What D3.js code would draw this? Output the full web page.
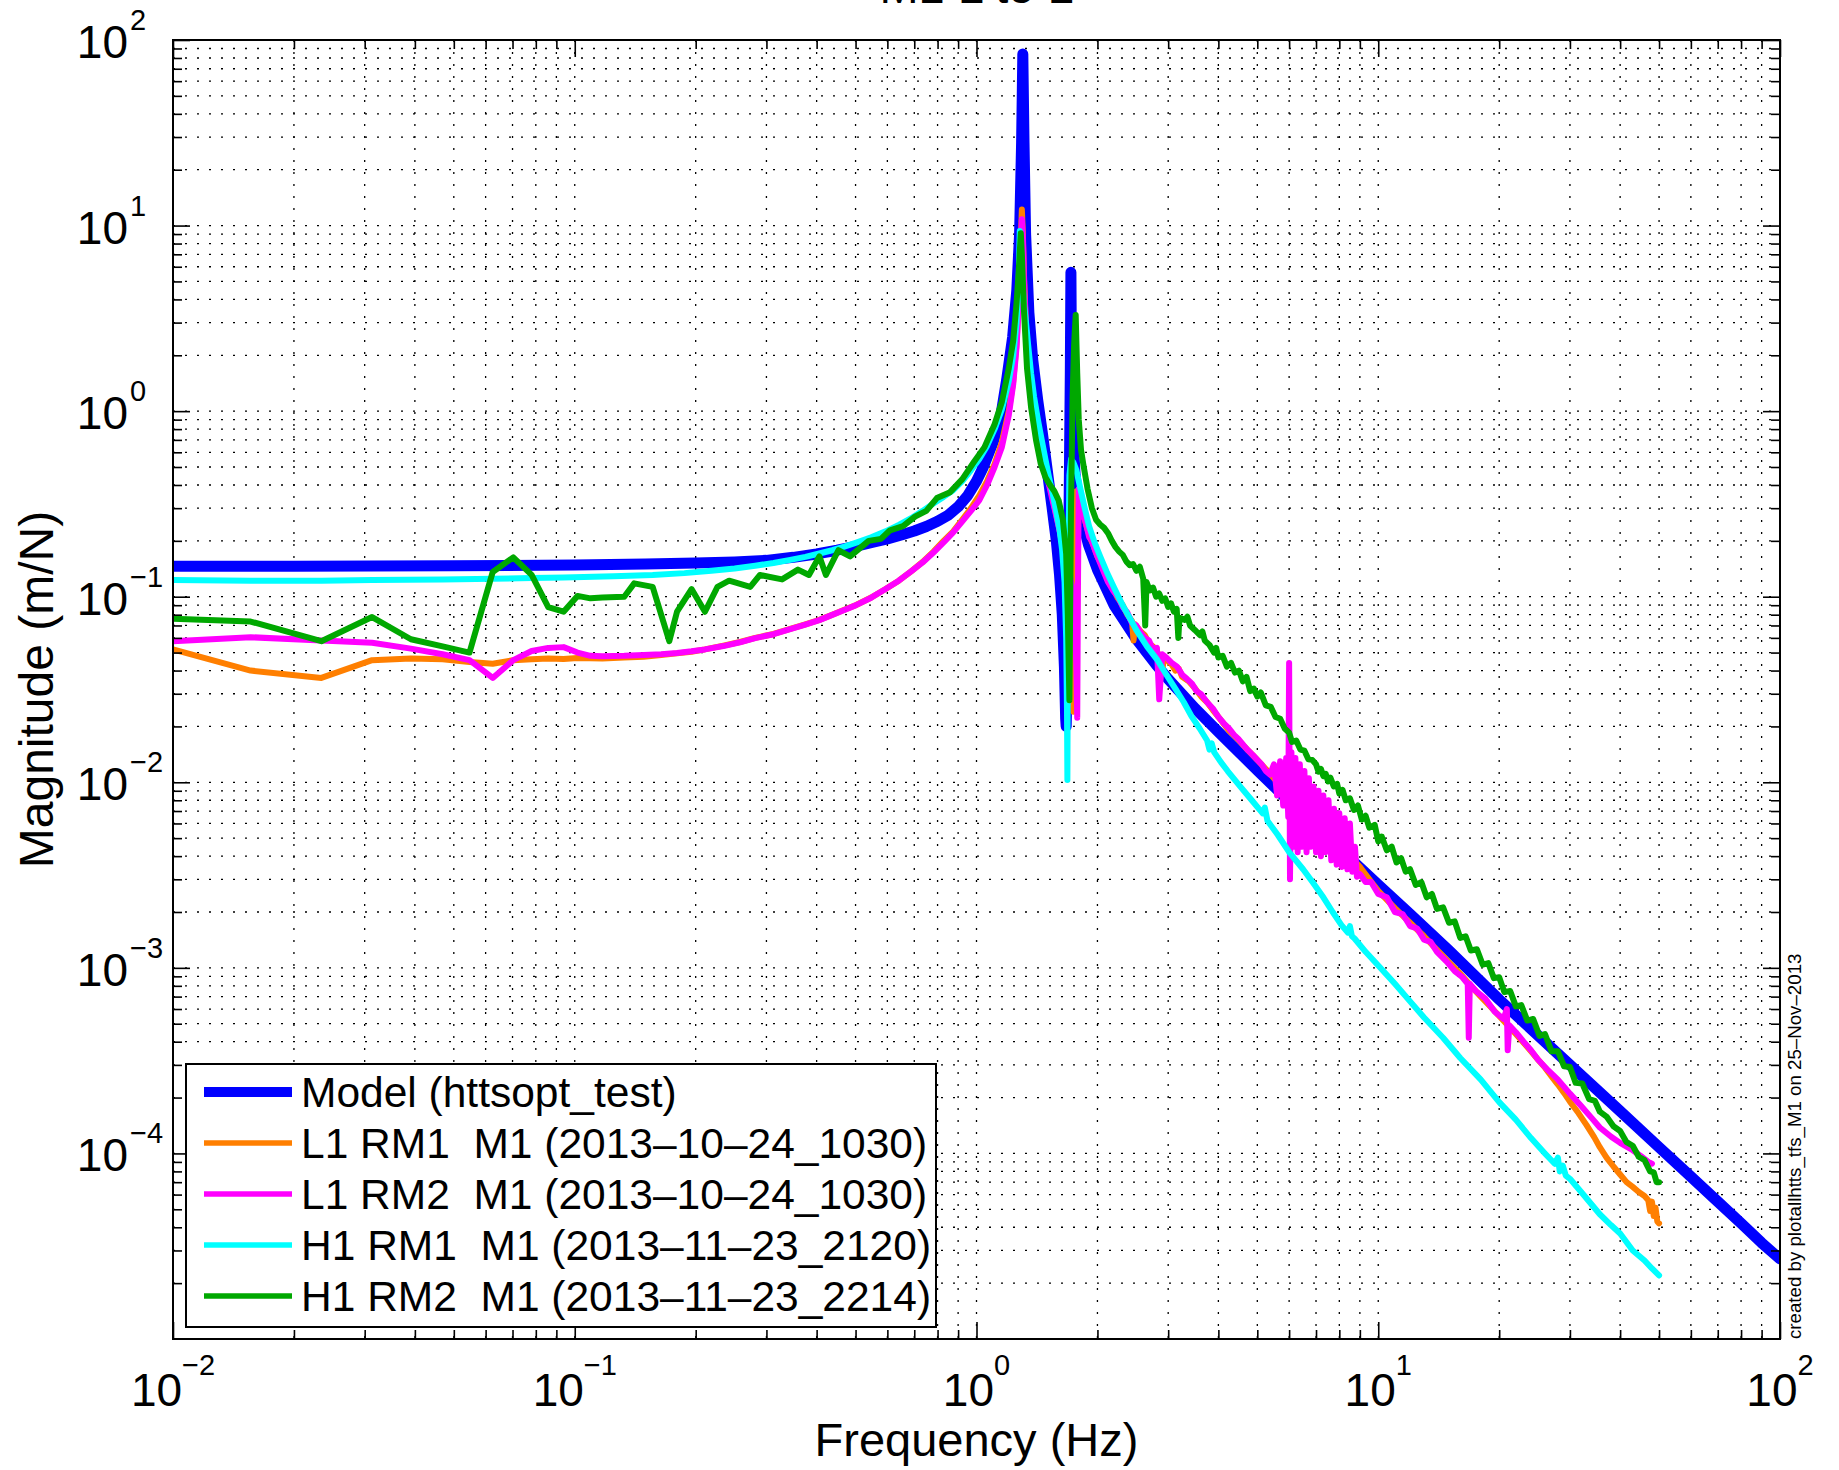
<!DOCTYPE html>
<html><head><meta charset="utf-8">
<script src="https://cdn.jsdelivr.net/npm/d3@7"></script>
<style>
html,body{margin:0;padding:0;background:#fff;}
svg{display:block;font-family:"Liberation Sans",Arial,Helvetica,sans-serif;}
</style></head><body>
<svg id="chart" width="1839" height="1470"></svg>
<script>
// ---------------- DATA (frequency Hz, magnitude m/N) ----------------
const titleText = "M1 L to L";
const xLabel = "Frequency (Hz)";
const yLabel = "Magnitude (m/N)";
const sideNote = "created by plotallhtts_tfs_M1 on 25\u2013Nov\u20132013";
const xTickExps = ["\u22122","\u22121","0","1","2"];
const xTickVals = [1e-2,1e-1,1,10,100];
const yTickExps = ["2","1","0","\u22121","\u22122","\u22123","\u22124"];
const yTickVals = [1e2,1e1,1,1e-1,1e-2,1e-3,1e-4];
const seriesNames = ["Model (httsopt_test)","L1 RM1  M1 (2013\u201310\u201324_1030)","L1 RM2  M1 (2013\u201310\u201324_1030)","H1 RM1  M1 (2013\u201311\u201323_2120)","H1 RM2  M1 (2013\u201311\u201323_2214)"];
const seriesColors = ["#0000ff","#ff7f00","#ff00ff","#00ffff","#00a800"];
const seriesWidths = [11,6,6,6,6];
const legendWidths = [10,5.5,5.5,5.5,5.5];

const modelData = [
[0.01,0.146],[0.02,0.146],[0.05,0.147],[0.1,0.148],[0.15,0.15],[0.2,0.152],[0.25,0.154],[0.3,0.157],[0.35,0.163],[0.4,0.17],[0.45,0.178],[0.5,0.187],[0.55,0.196],[0.6,0.205],[0.65,0.215],[0.7,0.226],[0.75,0.239],[0.8,0.255],[0.85,0.275],[0.9,0.305],[0.95,0.35],[1.0,0.42],[1.04,0.5],[1.1,0.68],[1.15,0.95],[1.19,1.5],[1.23,2.5],[1.26,4.5],[1.28,9],[1.295,28],[1.304,84],[1.313,28],[1.325,9],[1.35,3.4],[1.38,1.9],[1.42,1.15],[1.46,0.75],[1.5,0.48],[1.54,0.31],[1.58,0.2],[1.61,0.13],[1.635,0.08],[1.655,0.042],[1.667,0.022],[1.672,0.02],[1.68,0.035],[1.695,0.15],[1.705,0.6],[1.712,1.6],[1.718,5.6],[1.724,1.6],[1.735,0.8],[1.76,0.45],[1.8,0.3],[1.9,0.19],[2.0,0.14],[2.2,0.09],[2.5,0.059],[2.8,0.043],[3.0,0.036],[3.5,0.025],[4.0,0.0187],[5.0,0.0116],[6.0,0.0079],[7.0,0.0058],[8.0,0.0044],[10,0.0028],[12,0.00195],[15,0.00124],[20,0.000675],[30,0.0003],[40,0.000169],[50,0.000108],[60,0.000075],[70,0.000055],[80,0.000042],[90,0.000033],[100,0.000027]];

const l1rm1Data = [
[0.01,0.052],[0.0156,0.040],[0.0234,0.0365],[0.0313,0.0455],[0.0391,0.0465],[0.0469,0.046],[0.0547,0.0445],[0.0625,0.0435],[0.0703,0.0455],[0.0781,0.046],[0.0859,0.0465],[0.0938,0.0462],[0.1016,0.0468],[0.1172,0.0465],[0.1328,0.047],[0.1484,0.0475],[0.1641,0.0485],[0.1797,0.0495],[0.1953,0.0505],[0.2109,0.052],[0.2344,0.0545],[0.2578,0.057],[0.2813,0.06],[0.3125,0.063],[0.3438,0.067],[0.375,0.071],[0.4063,0.075],[0.4375,0.08],[0.4688,0.085],[0.5,0.09],[0.5469,0.099],[0.5938,0.11],[0.6406,0.122],[0.6875,0.137],[0.7344,0.154],[0.7813,0.175],[0.8281,0.2],[0.875,0.225],[0.9219,0.26],[0.9688,0.3],[1.0156,0.35],[1.0625,0.42],[1.1094,0.52],[1.1563,0.68],[1.2031,1.0],[1.2344,1.45],[1.2578,2.3],[1.2734,3.8],[1.2891,8.0],[1.2969,12.2],[1.3047,9.0],[1.3125,5.5],[1.3281,2.8],[1.3438,2.0],[1.3672,1.4],[1.3906,1.05],[1.4219,0.8],[1.4531,0.62],[1.4844,0.5],[1.5156,0.41],[1.5469,0.34],[1.5781,0.28],[1.6094,0.23],[1.6406,0.18],[1.6719,0.15],[1.6953,0.12],[1.7188,0.08],[1.7344,0.045],[1.7422,0.024],[1.75,0.09],[1.7578,0.3],[1.7734,0.37],[1.7969,0.33],[1.8281,0.29],[1.8594,0.26],[1.8906,0.23],[1.9219,0.205],[1.9531,0.19],[2.0,0.165],[2.0625,0.145],[2.125,0.122],[2.1875,0.11],[2.25,0.098],[2.3125,0.09],[2.375,0.08],[2.4375,0.074],[2.46,0.058],[2.48,0.071],[2.5625,0.065],[2.625,0.062],[2.6875,0.056],[2.75,0.054],[2.8125,0.05],[2.875,0.048],[2.9,0.04],[2.93,0.047],[3.0,0.045],[3.0625,0.043],[3.125,0.04],[3.1875,0.041],[3.25,0.037],[3.375,0.035],[3.5,0.032],[3.625,0.029],[3.75,0.027],[3.875,0.0245],[4.0,0.0225],[4.25,0.019],[4.5,0.0168],[4.75,0.0148],[5.0,0.0132],[5.25,0.0118],[5.5,0.0105],[5.75,0.0095],[6.0,0.0086],[6.25,0.0079],[6.5,0.0072],[6.75,0.0067],[7.0,0.0061],[7.5,0.0053],[8.0,0.0046],[8.5,0.004],[9.0,0.0035],[9.5,0.0030],[10,0.0026],[11,0.0021],[12,0.00175],[13,0.00148],[14,0.00125],[15,0.00107],[16,0.00093],[17,0.0008],[18,0.0007],[19,0.00062],[20,0.00055],[21,0.00049],[22,0.00044],[23,0.000395],[24,0.000355],[25,0.00032],[26,0.00029],[27,0.00026],[28,0.000235],[29,0.000212],[30,0.00019],[31.5,0.000165],[33,0.000142],[34.5,0.000122],[35.6,0.000108],[37,0.000095],[38.5,0.000085],[40,0.000077],[41.5,0.00007],[43,0.000066],[44.5,0.000062],[46,0.000059],[47,0.000056],[47.5,0.000049],[48,0.000055],[48.5,0.000046],[49,0.000051],[49.5,0.000043],[50,0.000042]];

const l1rm2Data = [
[0.01,0.0576],[0.0156,0.0605],[0.0234,0.058],[0.0313,0.0565],[0.0391,0.0525],[0.0469,0.049],[0.0547,0.0455],[0.0625,0.0365],[0.0703,0.0455],[0.0781,0.051],[0.0859,0.053],[0.0938,0.0535],[0.1016,0.05],[0.1094,0.048],[0.1172,0.0478],[0.1328,0.048],[0.1484,0.0485],[0.1641,0.049],[0.1797,0.0498],[0.1953,0.0508],[0.2109,0.052],[0.2344,0.0542],[0.2578,0.0568],[0.2813,0.0598],[0.3125,0.0628],[0.3438,0.0668],[0.375,0.0708],[0.4063,0.0748],[0.4375,0.0798],[0.4688,0.0848],[0.5,0.0898],[0.5469,0.0988],[0.5938,0.11],[0.6406,0.122],[0.6875,0.137],[0.7344,0.153],[0.7813,0.173],[0.8281,0.196],[0.875,0.222],[0.9219,0.255],[0.9688,0.29],[1.0156,0.33],[1.0625,0.4],[1.1094,0.5],[1.1563,0.64],[1.2031,0.95],[1.2344,1.4],[1.2578,2.2],[1.2734,3.6],[1.2891,7.5],[1.2969,10.8],[1.3047,8.5],[1.3125,5.2],[1.3281,2.7],[1.3438,1.95],[1.3672,1.38],[1.3906,1.03],[1.4219,0.79],[1.4531,0.61],[1.4844,0.49],[1.5156,0.4],[1.5469,0.33],[1.5781,0.275],[1.6094,0.228],[1.6406,0.19],[1.6719,0.16],[1.7031,0.135],[1.7344,0.11],[1.7578,0.08],[1.7734,0.04],[1.7813,0.0223],[1.7891,0.12],[1.7969,0.38],[1.8125,0.34],[1.8438,0.28],[1.875,0.245],[1.9063,0.21],[1.9375,0.2],[1.9688,0.18],[2.0,0.165],[2.0625,0.14],[2.125,0.12],[2.1875,0.108],[2.25,0.1],[2.3125,0.088],[2.375,0.082],[2.4375,0.072],[2.5,0.07],[2.5625,0.064],[2.625,0.06],[2.6875,0.058],[2.75,0.052],[2.8125,0.053],[2.85,0.028],[2.9,0.049],[2.9688,0.047],[3.0625,0.044],[3.1563,0.042],[3.25,0.038],[3.3438,0.036],[3.4375,0.034],[3.5313,0.031],[3.625,0.0298],[3.75,0.027],[3.875,0.025],[4.0,0.0225],[4.125,0.0208],[4.25,0.0195],[4.375,0.018],[4.5,0.017],[4.625,0.0158],[4.75,0.0148],[4.875,0.014],[5.0,0.0132],[5.125,0.0125],[5.25,0.0115],[5.375,0.011],[5.5,0.0125],[5.6,0.0085],[5.7,0.013],[5.8,0.0075],[5.9,0.0135],[5.97,0.0065],[6.0,0.044],[6.03,0.003],[6.08,0.0145],[6.15,0.0045],[6.22,0.0135],[6.3,0.0042],[6.38,0.0125],[6.46,0.0045],[6.55,0.0115],[6.63,0.0042],[6.72,0.0105],[6.8,0.0045],[6.9,0.0095],[7.0,0.0042],[7.1,0.009],[7.2,0.004],[7.3,0.0085],[7.4,0.0042],[7.52,0.008],[7.64,0.0038],[7.76,0.0072],[7.88,0.0036],[8.0,0.0068],[8.12,0.0035],[8.25,0.0064],[8.38,0.0034],[8.5,0.006],[8.62,0.0033],[8.75,0.0045],[8.85,0.0031],[9.0,0.0032],[9.3,0.0029],[9.6,0.0029],[10,0.0025],[10.5,0.0024],[11,0.0020],[11.5,0.00195],[12,0.00168],[12.5,0.00163],[13,0.00142],[13.5,0.00138],[14,0.00122],[14.8,0.00108],[15.5,0.00096],[16.2,0.00089],[16.7,0.00082],[16.8,0.00042],[16.9,0.00082],[17.5,0.00075],[18.5,0.00068],[19.5,0.00058],[20.5,0.00053],[20.9,0.0006],[21.0,0.00036],[21.2,0.00049],[22,0.00045],[23,0.0004],[24,0.00036],[25,0.00032],[26.5,0.00028],[28,0.00025],[30,0.00021],[32,0.00018],[34,0.000155],[35.6,0.000138],[38,0.000123],[40,0.000114],[43,0.000104],[45,0.000097],[47,0.00009],[48,0.000088]];

const h1rm1Data = [
[0.01,0.123],[0.0156,0.122],[0.0234,0.122],[0.0313,0.123],[0.0469,0.124],[0.0625,0.125],[0.0781,0.126],[0.0938,0.127],[0.125,0.129],[0.1563,0.131],[0.1875,0.134],[0.2188,0.138],[0.25,0.142],[0.2813,0.147],[0.3125,0.152],[0.3438,0.158],[0.375,0.164],[0.4063,0.171],[0.4375,0.178],[0.4688,0.186],[0.5,0.195],[0.5469,0.209],[0.5938,0.225],[0.6406,0.244],[0.6875,0.265],[0.7344,0.29],[0.7813,0.318],[0.8281,0.345],[0.875,0.375],[0.9219,0.42],[0.9688,0.48],[1.0156,0.55],[1.0625,0.65],[1.1094,0.8],[1.1563,1.02],[1.2031,1.45],[1.2344,2.0],[1.2578,3.0],[1.2734,5.0],[1.2813,9.35],[1.2891,7.5],[1.2969,5.5],[1.3125,3.8],[1.3281,3.0],[1.3438,2.3],[1.3672,1.6],[1.3906,1.2],[1.4219,0.9],[1.4531,0.7],[1.4844,0.55],[1.5156,0.44],[1.5469,0.36],[1.5781,0.29],[1.6094,0.23],[1.6328,0.18],[1.6563,0.12],[1.6719,0.06],[1.6797,0.025],[1.6836,0.0103],[1.6875,0.04],[1.6953,0.2],[1.7031,0.45],[1.7188,0.55],[1.7422,0.53],[1.7734,0.48],[1.8125,0.385],[1.8594,0.3],[1.9063,0.24],[1.9688,0.195],[2.0313,0.165],[2.1094,0.136],[2.1875,0.115],[2.2656,0.098],[2.3438,0.085],[2.4219,0.075],[2.5,0.066],[2.6563,0.054],[2.8125,0.046],[2.9688,0.038],[3.125,0.032],[3.2813,0.027],[3.4375,0.0225],[3.5938,0.0195],[3.75,0.0168],[3.8,0.0150],[3.85,0.0162],[3.9063,0.0145],[4.0625,0.0128],[4.2188,0.0115],[4.5313,0.0095],[4.8438,0.008],[5.1563,0.0068],[5.22,0.0073],[5.3,0.0062],[5.625,0.0052],[6.0,0.0042],[6.5,0.0034],[6.86,0.0029],[7.3,0.0024],[7.7,0.002],[8.1,0.0017],[8.4,0.00155],[8.5,0.00168],[8.6,0.00148],[8.73,0.00144],[9.3,0.00122],[10,0.00103],[11,0.00082],[12,0.00066],[13,0.00054],[14.5,0.00042],[16,0.000327],[18,0.00025],[20,0.000189],[22,0.000152],[24,0.000121],[26,0.0001],[27.5,0.000088],[28,0.000095],[28.3,0.00008],[28.8,0.000086],[29.3,0.000076],[30,0.000073],[32,0.000062],[35.6,0.000047],[38,0.000041],[40,0.000037],[43,0.00003],[46,0.0000265],[48,0.000024],[50,0.000022]];

const h1rm2Data = [
[0.01,0.076],[0.0156,0.0735],[0.0234,0.0576],[0.0313,0.0777],[0.0391,0.059],[0.0469,0.054],[0.0547,0.05],[0.0625,0.136],[0.0703,0.163],[0.0781,0.131],[0.0859,0.088],[0.0938,0.083],[0.1016,0.101],[0.1094,0.098],[0.1172,0.099],[0.1328,0.1],[0.1406,0.118],[0.1563,0.113],[0.1719,0.0576],[0.1797,0.083],[0.1953,0.11],[0.2109,0.083],[0.2266,0.113],[0.2422,0.122],[0.2734,0.113],[0.2891,0.131],[0.3281,0.124],[0.3594,0.14],[0.3828,0.131],[0.4063,0.165],[0.4219,0.131],[0.4531,0.178],[0.4844,0.165],[0.5391,0.2],[0.5781,0.205],[0.6094,0.228],[0.6563,0.24],[0.7031,0.27],[0.75,0.29],[0.7969,0.34],[0.8594,0.366],[0.9219,0.43],[0.9844,0.53],[1.0469,0.64],[1.1094,0.85],[1.1563,1.12],[1.2031,1.7],[1.2344,2.4],[1.2578,3.8],[1.2734,5.6],[1.2891,9.1],[1.2969,7.0],[1.3125,3.5],[1.3359,1.7],[1.3672,1.05],[1.4063,0.7],[1.4453,0.52],[1.4844,0.44],[1.5234,0.4],[1.5625,0.37],[1.6016,0.33],[1.6406,0.26],[1.6719,0.17],[1.6875,0.08],[1.7031,0.0277],[1.7188,0.3],[1.7344,1.2],[1.75,2.3],[1.7656,3.3],[1.7813,1.6],[1.7969,0.9],[1.8203,0.62],[1.8438,0.52],[1.8906,0.38],[1.9375,0.3],[1.9844,0.26],[2.0313,0.245],[2.0781,0.235],[2.125,0.22],[2.1719,0.2],[2.2188,0.185],[2.2656,0.175],[2.3125,0.168],[2.3594,0.155],[2.4063,0.148],[2.4531,0.15],[2.5,0.138],[2.55,0.145],[2.6,0.125],[2.63,0.07],[2.65,0.12],[2.7,0.108],[2.75,0.112],[2.8,0.1],[2.85,0.104],[2.9,0.095],[2.95,0.098],[3.0,0.088],[3.05,0.092],[3.1,0.083],[3.15,0.086],[3.18,0.06],[3.2,0.077],[3.3,0.075],[3.35,0.078],[3.4,0.07],[3.5,0.066],[3.6,0.062],[3.65,0.065],[3.7,0.058],[3.8,0.055],[3.9,0.05],[3.95,0.053],[4.0,0.047],[4.1,0.048],[4.2,0.042],[4.3,0.044],[4.4,0.039],[4.5,0.04],[4.6,0.035],[4.7,0.037],[4.8,0.031],[4.9,0.032],[5.0,0.029],[5.1,0.0305],[5.25,0.026],[5.4,0.0255],[5.55,0.0225],[5.7,0.022],[5.85,0.0195],[6.0,0.0185],[6.1,0.0165],[6.25,0.0168],[6.4,0.015],[6.55,0.0148],[6.7,0.0133],[6.85,0.0132],[7.0,0.0125],[7.1,0.0114],[7.2,0.0118],[7.3,0.0108],[7.4,0.0111],[7.5,0.0101],[7.6,0.0106],[7.75,0.0095],[7.9,0.0098],[8.0,0.0087],[8.15,0.0091],[8.3,0.008],[8.5,0.0082],[8.7,0.0071],[8.9,0.0075],[9.1,0.0063],[9.3,0.0066],[9.5,0.0057],[9.8,0.0059],[10.0,0.0048],[10.2,0.0051],[10.5,0.0043],[10.8,0.0045],[11.1,0.0037],[11.4,0.0039],[11.7,0.0033],[12.0,0.0034],[12.4,0.0028],[12.8,0.0029],[13.2,0.0024],[13.6,0.0025],[14.0,0.00208],[14.5,0.00212],[15.0,0.00175],[15.5,0.00178],[16.0,0.00145],[16.5,0.00148],[17.0,0.00124],[17.6,0.00126],[18.2,0.00104],[18.8,0.00106],[19.4,0.00088],[20.0,0.00089],[20.6,0.00074],[21.3,0.00075],[22,0.00062],[22.7,0.00063],[23.5,0.00052],[24.3,0.00053],[25.2,0.00043],[26,0.00044],[27,0.000355],[28,0.000355],[29,0.000295],[30,0.000292],[31,0.00024],[32.2,0.000238],[33.5,0.000196],[34.6,0.000192],[35.6,0.000168],[37,0.000158],[38.5,0.00014],[40,0.000132],[41.5,0.000115],[43,0.00011],[44.5,0.000096],[46,0.000092],[47.5,0.00008],[48.5,0.000079],[49.3,0.00007],[50,0.00007]];

const allSeries = [modelData,l1rm1Data,l1rm2Data,h1rm1Data,h1rm2Data];

// ---------------- LAYOUT ----------------
const M = {left:173, top:40, right:1780, bottom:1339};
const svg = d3.select("#chart");
const x = d3.scaleLog().domain([1e-2,1e2]).range([M.left,M.right]);
const y = d3.scaleLog().domain([1e-5,1e2]).range([M.bottom,M.top]);

const isMajor = v => Math.abs(Math.log10(v) - Math.round(Math.log10(v))) < 1e-9;
const xAll = x.ticks(), yAll = y.ticks();
const xMinor = xAll.filter(v => !isMajor(v));
const yMinor = yAll.filter(v => !isMajor(v));

// grid (dotted)
const grid = svg.append("g").attr("stroke","#000").attr("stroke-width",1.3).attr("stroke-dasharray","2,10").attr("fill","none");
xAll.forEach(v => { const px = x(v); if (px > M.left+1 && px < M.right-1) grid.append("line").attr("x1",px).attr("x2",px).attr("y1",M.top).attr("y2",M.bottom); });
yAll.forEach(v => { const py = y(v); if (py > M.top+1 && py < M.bottom-1) grid.append("line").attr("y1",py).attr("y2",py).attr("x1",M.left).attr("x2",M.right); });

// clip
svg.append("defs").append("clipPath").attr("id","plotclip").append("rect")
  .attr("x",M.left).attr("y",M.top).attr("width",M.right-M.left).attr("height",M.bottom-M.top);

const line = d3.line().x(d => x(d[0])).y(d => y(d[1]));
const curves = svg.append("g").attr("clip-path","url(#plotclip)");
allSeries.forEach((data,i) => {
  curves.append("path").datum(data).attr("d",line).attr("fill","none")
    .attr("stroke",seriesColors[i]).attr("stroke-width",seriesWidths[i])
    .attr("stroke-linejoin","round").attr("stroke-linecap","round");
});

// axes ticks (inward) on all four sides
function addAxis(axisGen, tx, ty, vals, len) {
  const g = svg.append("g").attr("transform",`translate(${tx},${ty})`)
    .call(axisGen.tickValues(vals).tickSize(-len).tickFormat(""));
  g.select(".domain").remove();
  g.selectAll(".tick line").attr("stroke","#000").attr("stroke-width",1.6);
}
addAxis(d3.axisBottom(x), 0, M.bottom, xTickVals, 17);
addAxis(d3.axisBottom(x), 0, M.bottom, xMinor, 9);
addAxis(d3.axisTop(x), 0, M.top, xTickVals, 17);
addAxis(d3.axisTop(x), 0, M.top, xMinor, 9);
addAxis(d3.axisLeft(y), M.left, 0, yTickVals, 17);
addAxis(d3.axisLeft(y), M.left, 0, yMinor, 9);
addAxis(d3.axisRight(y), M.right, 0, yTickVals, 17);
addAxis(d3.axisRight(y), M.right, 0, yMinor, 9);

svg.append("rect").attr("x",M.left).attr("y",M.top).attr("width",M.right-M.left).attr("height",M.bottom-M.top)
  .attr("fill","none").attr("stroke","#000").attr("stroke-width",2);

// tick labels
xTickVals.forEach((v,i) => {
  const t = svg.append("text").attr("x",x(v)).attr("y",1406).attr("text-anchor","middle").attr("fill","#000");
  t.append("tspan").attr("font-size",46).text("10");
  t.append("tspan").attr("font-size",29).attr("dy",-31).text(xTickExps[i]);
});
yTickVals.forEach((v,i) => {
  const by = y(v) + 18;
  svg.append("text").attr("x",128).attr("y",by).attr("text-anchor","end").attr("font-size",46).attr("fill","#000").text("10");
  svg.append("text").attr("x",130).attr("y",by-28).attr("text-anchor","start").attr("font-size",29).attr("fill","#000").text(yTickExps[i]);
});

// axis labels & title
svg.append("text").attr("x",(M.left+M.right)/2).attr("y",1456).attr("text-anchor","middle").attr("font-size",47).attr("fill","#000").text(xLabel);
svg.append("text").attr("transform",`translate(53,${(M.top+M.bottom)/2}) rotate(-90)`).attr("text-anchor","middle").attr("font-size",48).attr("fill","#000").text(yLabel);
svg.append("text").attr("x",(M.left+M.right)/2).attr("y",3).attr("text-anchor","middle").attr("font-size",47).attr("fill","#000").text(titleText);
svg.append("text").attr("transform",`translate(1801,${M.bottom}) rotate(-90)`).attr("text-anchor","start").attr("font-size",18.7).attr("fill","#000").text(sideNote);

// legend
const lg = svg.append("g");
lg.append("rect").attr("x",186).attr("y",1064).attr("width",750).attr("height",263).attr("fill","#fff").attr("stroke","#000").attr("stroke-width",2);
seriesNames.forEach((name,i) => {
  const cy = 1092 + i*51;
  lg.append("line").attr("x1",204).attr("x2",292).attr("y1",cy).attr("y2",cy)
    .attr("stroke",seriesColors[i]).attr("stroke-width",legendWidths[i]);
  lg.append("text").attr("x",301).attr("y",cy+15).attr("font-size",42.5).attr("fill","#000").attr("xml:space","preserve").style("white-space","pre").text(name);
});
</script>
</body></html>
